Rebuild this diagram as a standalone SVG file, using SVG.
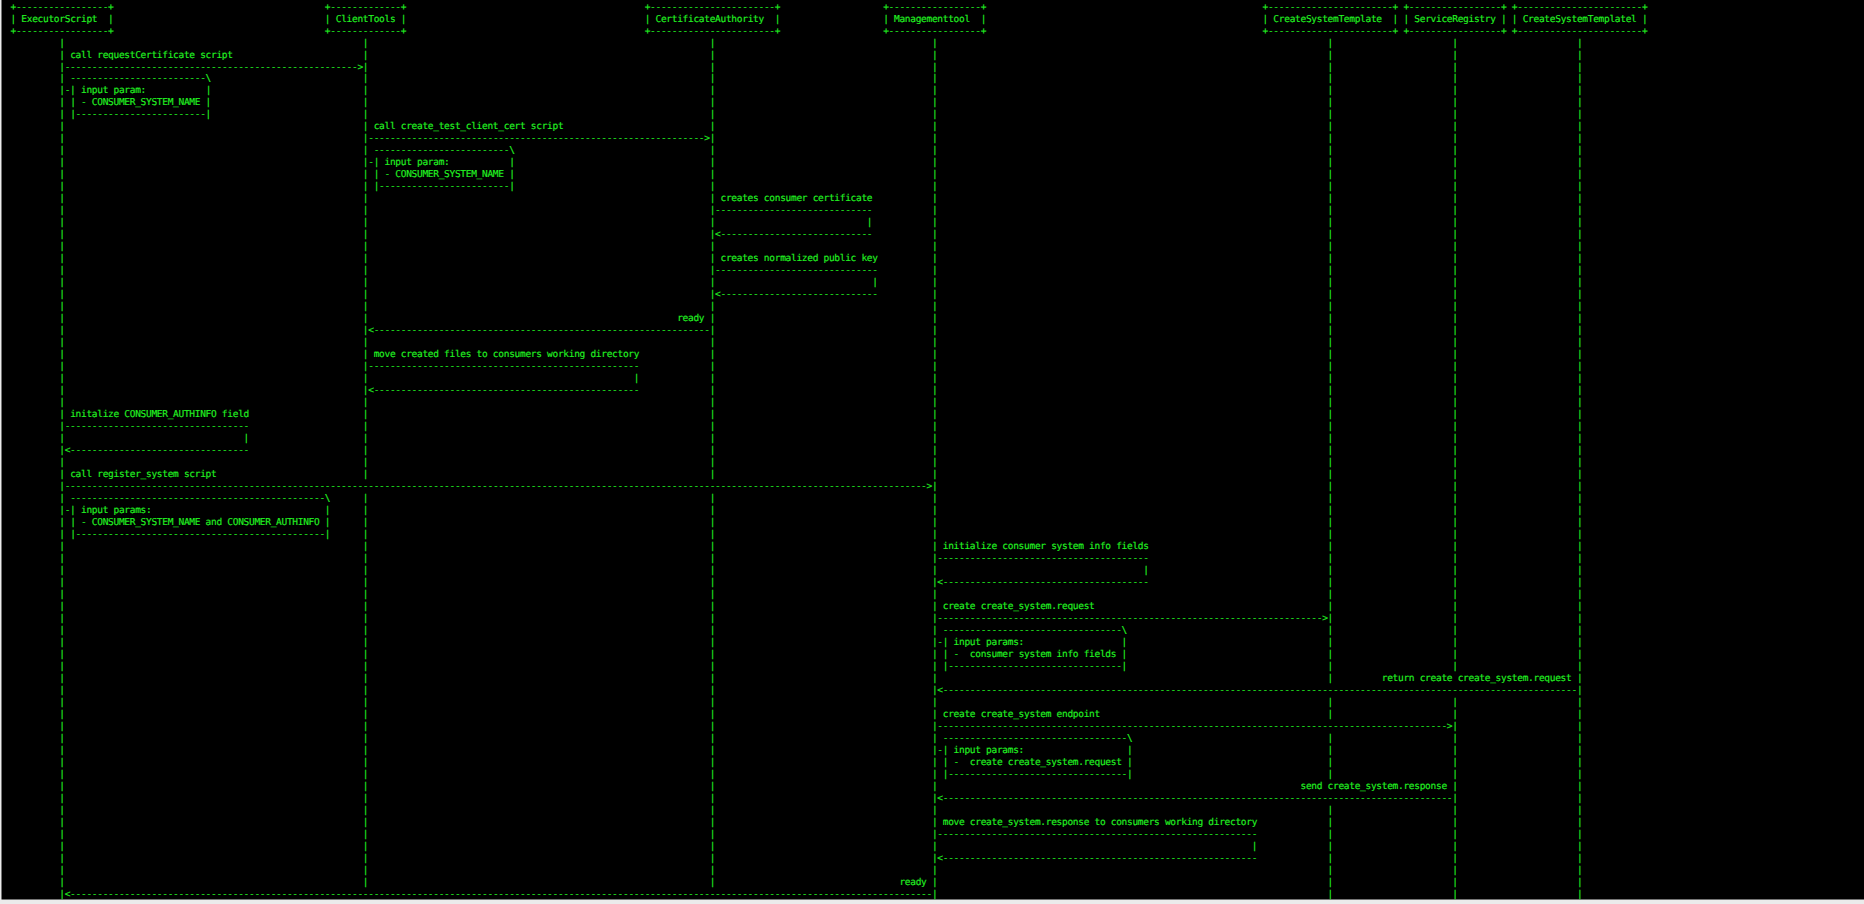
<svg xmlns="http://www.w3.org/2000/svg" width="1864" height="904" viewBox="0 0 1864 904" xml:space="preserve"><style>.t{font-family:"DejaVu Sans Mono","Liberation Mono",monospace;font-size:9.5px;letter-spacing:-0.3px;fill:#22f222;stroke:#22f222;stroke-width:0.15px;white-space:pre;text-rendering:geometricPrecision}</style><rect x="0" y="0" width="1864" height="904" fill="#ebebeb"/><rect x="1.5" y="0" width="1862.5" height="899.5" fill="#000000"/><g id="ExecutorScript"><text class="t" xml:space="preserve" x="10.51" y="9.5" textLength="102.98">+-----------------+</text><text class="t" xml:space="preserve" x="10.51" y="21.5" textLength="102.98">| ExecutorScript  |</text><text class="t" x="10.51" y="33.5" textLength="102.98">+-----------------+</text><text class="t" transform="translate(59.29 0)" x="0 0 0 0 0 0 0 0 0 0 0 0 0 0 0 0 0 0 0 0 0 0 0 0 0 0 0 0 0 0 0 0 0 0 0 0 0 0 0 0 0 0 0 0 0 0 0 0 0 0 0 0 0 0 0 0 0 0 0 0 0 0 0 0 0 0 0 0 0 0 0 0" y="45.5 57.5 69.5 81.4 93.4 105.4 117.4 129.4 141.4 153.4 165.4 177.4 189.4 201.3 213.3 225.3 237.3 249.3 261.3 273.3 285.3 297.3 309.3 321.2 333.2 345.2 357.2 369.2 381.2 393.2 405.2 417.2 429.2 441.1 453.1 465.1 477.1 489.1 501.1 513.1 525.1 537.1 549.1 561 573 585 597 609 621 633 645 657 669 680.9 692.9 704.9 716.9 728.9 740.9 752.9 764.9 776.9 788.9 800.8 812.8 824.8 836.8 848.8 860.8 872.8 884.8 896.8">||||||||||||||||||||||||||||||||||||||||||||||||||||||||||||||||||||||||</text></g><g id="ClientTools"><text class="t" x="324.87" y="9.5" textLength="81.3">+-------------+</text><text class="t" xml:space="preserve" x="324.87" y="21.5" textLength="81.3">| ClientTools |</text><text class="t" x="324.87" y="33.5" textLength="81.3">+-------------+</text><text class="t" transform="translate(362.81 0)" x="0 0 0 0 0 0 0 0 0 0 0 0 0 0 0 0 0 0 0 0 0 0 0 0 0 0 0 0 0 0 0 0 0 0 0 0 0 0 0 0 0 0 0 0 0 0 0 0 0 0 0 0 0 0 0 0 0 0 0 0 0 0 0 0 0 0 0 0 0 0 0 0" y="45.5 57.5 69.5 81.4 93.4 105.4 117.4 129.4 141.4 153.4 165.4 177.4 189.4 201.3 213.3 225.3 237.3 249.3 261.3 273.3 285.3 297.3 309.3 321.2 333.2 345.2 357.2 369.2 381.2 393.2 405.2 417.2 429.2 441.1 453.1 465.1 477.1 501.1 513.1 525.1 537.1 549.1 561 573 585 597 609 621 633 645 657 669 680.9 692.9 704.9 716.9 728.9 740.9 752.9 764.9 776.9 788.9 800.8 812.8 824.8 836.8 848.8 860.8 872.8 884.8">||||||||||||||||||||||||||||||||||||||||||||||||||||||||||||||||||||||</text></g><g id="CertificateAuthority"><text class="t" x="644.65" y="9.5" textLength="135.5">+-----------------------+</text><text class="t" xml:space="preserve" x="644.65" y="21.5" textLength="135.5">| CertificateAuthority  |</text><text class="t" x="644.65" y="33.5" textLength="135.5">+-----------------------+</text><text class="t" transform="translate(709.69 0)" x="0 0 0 0 0 0 0 0 0 0 0 0 0 0 0 0 0 0 0 0 0 0 0 0 0 0 0 0 0 0 0 0 0 0 0 0 0 0 0 0 0 0 0 0 0 0 0 0 0 0 0 0 0 0 0 0 0 0 0 0 0 0 0 0 0 0 0 0 0 0 0 0" y="45.5 57.5 69.5 81.4 93.4 105.4 117.4 129.4 141.4 153.4 165.4 177.4 189.4 201.3 213.3 225.3 237.3 249.3 261.3 273.3 285.3 297.3 309.3 321.2 333.2 345.2 357.2 369.2 381.2 393.2 405.2 417.2 429.2 441.1 453.1 465.1 477.1 501.1 513.1 525.1 537.1 549.1 561 573 585 597 609 621 633 645 657 669 680.9 692.9 704.9 716.9 728.9 740.9 752.9 764.9 776.9 788.9 800.8 812.8 824.8 836.8 848.8 860.8 872.8 884.8">||||||||||||||||||||||||||||||||||||||||||||||||||||||||||||||||||||||</text></g><g id="Managementtool"><text class="t" x="883.13" y="9.5" textLength="102.98">+-----------------+</text><text class="t" xml:space="preserve" x="883.13" y="21.5" textLength="102.98">| Managementtool  |</text><text class="t" x="883.13" y="33.5" textLength="102.98">+-----------------+</text><text class="t" transform="translate(931.91 0)" x="0 0 0 0 0 0 0 0 0 0 0 0 0 0 0 0 0 0 0 0 0 0 0 0 0 0 0 0 0 0 0 0 0 0 0 0 0 0 0 0 0 0 0 0 0 0 0 0 0 0 0 0 0 0 0 0 0 0 0 0 0 0 0 0 0 0 0 0 0 0 0 0" y="45.5 57.5 69.5 81.4 93.4 105.4 117.4 129.4 141.4 153.4 165.4 177.4 189.4 201.3 213.3 225.3 237.3 249.3 261.3 273.3 285.3 297.3 309.3 321.2 333.2 345.2 357.2 369.2 381.2 393.2 405.2 417.2 429.2 441.1 453.1 465.1 477.1 489.1 501.1 513.1 525.1 537.1 549.1 561 573 585 597 609 621 633 645 657 669 680.9 692.9 704.9 716.9 728.9 740.9 752.9 764.9 776.9 788.9 800.8 812.8 824.8 836.8 848.8 860.8 872.8 884.8 896.8">||||||||||||||||||||||||||||||||||||||||||||||||||||||||||||||||||||||||</text></g><g id="CreateSystemTemplate"><text class="t" x="1262.53" y="9.5" textLength="135.5">+-----------------------+</text><text class="t" xml:space="preserve" x="1262.53" y="21.5" textLength="135.5">| CreateSystemTemplate  |</text><text class="t" x="1262.53" y="33.5" textLength="135.5">+-----------------------+</text><text class="t" transform="translate(1327.57 0)" x="0 0 0 0 0 0 0 0 0 0 0 0 0 0 0 0 0 0 0 0 0 0 0 0 0 0 0 0 0 0 0 0 0 0 0 0 0 0 0 0 0 0 0 0 0 0 0 0 0 0 0 0 0 0 0 0 0 0 0 0 0 0 0 0 0 0 0 0 0 0 0 0" y="45.5 57.5 69.5 81.4 93.4 105.4 117.4 129.4 141.4 153.4 165.4 177.4 189.4 201.3 213.3 225.3 237.3 249.3 261.3 273.3 285.3 297.3 309.3 321.2 333.2 345.2 357.2 369.2 381.2 393.2 405.2 417.2 429.2 441.1 453.1 465.1 477.1 489.1 501.1 513.1 525.1 537.1 549.1 561 573 585 597 609 621 633 645 657 669 680.9 704.9 716.9 740.9 752.9 764.9 776.9 812.8 824.8 836.8 848.8 860.8 872.8 884.8 896.8">||||||||||||||||||||||||||||||||||||||||||||||||||||||||||||||||||||</text></g><g id="ServiceRegistry"><text class="t" x="1403.45" y="9.5" textLength="102.98">+-----------------+</text><text class="t" xml:space="preserve" x="1403.45" y="21.5" textLength="102.98">| ServiceRegistry |</text><text class="t" x="1403.45" y="33.5" textLength="102.98">+-----------------+</text><text class="t" transform="translate(1452.23 0)" x="0 0 0 0 0 0 0 0 0 0 0 0 0 0 0 0 0 0 0 0 0 0 0 0 0 0 0 0 0 0 0 0 0 0 0 0 0 0 0 0 0 0 0 0 0 0 0 0 0 0 0 0 0 0 0 0 0 0 0 0 0 0 0 0 0 0 0 0 0 0 0 0" y="45.5 57.5 69.5 81.4 93.4 105.4 117.4 129.4 141.4 153.4 165.4 177.4 189.4 201.3 213.3 225.3 237.3 249.3 261.3 273.3 285.3 297.3 309.3 321.2 333.2 345.2 357.2 369.2 381.2 393.2 405.2 417.2 429.2 441.1 453.1 465.1 477.1 489.1 501.1 513.1 525.1 537.1 549.1 561 573 585 597 609 621 633 645 657 669 704.9 716.9 728.9 740.9 752.9 764.9 776.9 788.9 800.8 812.8 824.8 836.8 848.8 860.8 872.8 884.8 896.8">||||||||||||||||||||||||||||||||||||||||||||||||||||||||||||||||||||||</text></g><g id="CreateSystemTemplatel"><text class="t" x="1511.85" y="9.5" textLength="135.5">+-----------------------+</text><text class="t" xml:space="preserve" x="1511.85" y="21.5" textLength="135.5">| CreateSystemTemplatel |</text><text class="t" x="1511.85" y="33.5" textLength="135.5">+-----------------------+</text><text class="t" transform="translate(1576.89 0)" x="0 0 0 0 0 0 0 0 0 0 0 0 0 0 0 0 0 0 0 0 0 0 0 0 0 0 0 0 0 0 0 0 0 0 0 0 0 0 0 0 0 0 0 0 0 0 0 0 0 0 0 0 0 0 0 0 0 0 0 0 0 0 0 0 0 0 0 0 0 0 0 0" y="45.5 57.5 69.5 81.4 93.4 105.4 117.4 129.4 141.4 153.4 165.4 177.4 189.4 201.3 213.3 225.3 237.3 249.3 261.3 273.3 285.3 297.3 309.3 321.2 333.2 345.2 357.2 369.2 381.2 393.2 405.2 417.2 429.2 441.1 453.1 465.1 477.1 489.1 501.1 513.1 525.1 537.1 549.1 561 573 585 597 609 621 633 645 657 669 680.9 692.9 704.9 716.9 728.9 740.9 752.9 764.9 776.9 788.9 800.8 812.8 824.8 836.8 848.8 860.8 872.8 884.8 896.8">||||||||||||||||||||||||||||||||||||||||||||||||||||||||||||||||||||||||</text></g><g id="connectors"><text class="t" x="70.13" y="57.5">call requestCertificate script</text><text class="t" x="64.71" y="69.5" textLength="298.1" lengthAdjust="spacingAndGlyphs">------------------------------------------------------></text><text class="t" x="70.13" y="81.4" textLength="140.92" lengthAdjust="spacingAndGlyphs">-------------------------\</text><text class="t" x="64.71" y="93.4">-| input param:</text><text class="t" x="205.63" y="93.4">|</text><text class="t" x="70.13" y="105.4">| - CONSUMER_SYSTEM_NAME |</text><text class="t" x="70.13" y="117.4" textLength="140.92" lengthAdjust="spacingAndGlyphs">|------------------------|</text><text class="t" x="373.65" y="129.4">call create_test_client_cert script</text><text class="t" x="368.23" y="141.4" textLength="341.46" lengthAdjust="spacingAndGlyphs">--------------------------------------------------------------></text><text class="t" x="373.65" y="153.4" textLength="140.92" lengthAdjust="spacingAndGlyphs">-------------------------\</text><text class="t" x="368.23" y="165.4">-| input param:</text><text class="t" x="509.15" y="165.4">|</text><text class="t" x="373.65" y="177.4">| - CONSUMER_SYSTEM_NAME |</text><text class="t" x="373.65" y="189.4" textLength="140.92" lengthAdjust="spacingAndGlyphs">|------------------------|</text><text class="t" x="720.53" y="201.3">creates consumer certificate</text><text class="t" x="715.11" y="213.3" textLength="157.18" lengthAdjust="spacingAndGlyphs">-----------------------------</text><text class="t" x="866.87" y="225.3">|</text><text class="t" x="715.11" y="237.3" textLength="157.18" lengthAdjust="spacingAndGlyphs">&lt;----------------------------</text><text class="t" x="720.53" y="261.3">creates normalized public key</text><text class="t" x="715.11" y="273.3" textLength="162.6" lengthAdjust="spacingAndGlyphs">------------------------------</text><text class="t" x="872.29" y="285.3">|</text><text class="t" x="715.11" y="297.3" textLength="162.6" lengthAdjust="spacingAndGlyphs">&lt;-----------------------------</text><text class="t" x="677.17" y="321.2">ready</text><text class="t" x="368.23" y="333.2" textLength="341.46" lengthAdjust="spacingAndGlyphs">&lt;--------------------------------------------------------------</text><text class="t" x="373.65" y="357.2">move created files to consumers working directory</text><text class="t" x="368.23" y="369.2" textLength="271" lengthAdjust="spacingAndGlyphs">--------------------------------------------------</text><text class="t" x="633.81" y="381.2">|</text><text class="t" x="368.23" y="393.2" textLength="271" lengthAdjust="spacingAndGlyphs">&lt;-------------------------------------------------</text><text class="t" x="70.13" y="417.2">initalize CONSUMER_AUTHINFO field</text><text class="t" x="64.71" y="429.2" textLength="184.28" lengthAdjust="spacingAndGlyphs">----------------------------------</text><text class="t" x="243.57" y="441.1">|</text><text class="t" x="64.71" y="453.1" textLength="184.28" lengthAdjust="spacingAndGlyphs">&lt;---------------------------------</text><text class="t" x="70.13" y="477.1">call register_system script</text><text class="t" x="64.71" y="489.1" textLength="867.2" lengthAdjust="spacingAndGlyphs">---------------------------------------------------------------------------------------------------------------------------------------------------------------></text><text class="t" x="70.13" y="501.1" textLength="260.16" lengthAdjust="spacingAndGlyphs">-----------------------------------------------\</text><text class="t" x="64.71" y="513.1">-| input params:</text><text class="t" x="324.87" y="513.1">|</text><text class="t" x="70.13" y="525.1">| - CONSUMER_SYSTEM_NAME and CONSUMER_AUTHINFO |</text><text class="t" x="70.13" y="537.1" textLength="260.16" lengthAdjust="spacingAndGlyphs">|----------------------------------------------|</text><text class="t" x="942.75" y="549.1">initialize consumer system info fields</text><text class="t" x="937.33" y="561" textLength="211.38" lengthAdjust="spacingAndGlyphs">---------------------------------------</text><text class="t" x="1143.29" y="573">|</text><text class="t" x="937.33" y="585" textLength="211.38" lengthAdjust="spacingAndGlyphs">&lt;--------------------------------------</text><text class="t" x="942.75" y="609">create create_system.request</text><text class="t" x="937.33" y="621" textLength="390.24" lengthAdjust="spacingAndGlyphs">-----------------------------------------------------------------------></text><text class="t" x="942.75" y="633" textLength="184.28" lengthAdjust="spacingAndGlyphs">---------------------------------\</text><text class="t" x="937.33" y="645">-| input params:</text><text class="t" x="1121.61" y="645">|</text><text class="t" xml:space="preserve" x="942.75" y="657" textLength="184.28">| -  consumer system info fields |</text><text class="t" x="942.75" y="669" textLength="184.28" lengthAdjust="spacingAndGlyphs">|--------------------------------|</text><text class="t" x="1381.77" y="680.9">return create create_system.request</text><text class="t" x="937.33" y="692.9" textLength="639.56" lengthAdjust="spacingAndGlyphs">&lt;---------------------------------------------------------------------------------------------------------------------</text><text class="t" x="942.75" y="716.9">create create_system endpoint</text><text class="t" x="937.33" y="728.9" textLength="514.9" lengthAdjust="spacingAndGlyphs">----------------------------------------------------------------------------------------------></text><text class="t" x="942.75" y="740.9" textLength="189.7" lengthAdjust="spacingAndGlyphs">----------------------------------\</text><text class="t" x="937.33" y="752.9">-| input params:</text><text class="t" x="1127.03" y="752.9">|</text><text class="t" xml:space="preserve" x="942.75" y="764.9" textLength="189.7">| -  create create_system.request |</text><text class="t" x="942.75" y="776.9" textLength="189.7" lengthAdjust="spacingAndGlyphs">|---------------------------------|</text><text class="t" x="1300.47" y="788.9">send create_system.response</text><text class="t" x="937.33" y="800.8" textLength="514.9" lengthAdjust="spacingAndGlyphs">&lt;----------------------------------------------------------------------------------------------</text><text class="t" x="942.75" y="824.8">move create_system.response to consumers working directory</text><text class="t" x="937.33" y="836.8" textLength="319.78" lengthAdjust="spacingAndGlyphs">-----------------------------------------------------------</text><text class="t" x="1251.69" y="848.8">|</text><text class="t" x="937.33" y="860.8" textLength="319.78" lengthAdjust="spacingAndGlyphs">&lt;----------------------------------------------------------</text><text class="t" x="899.39" y="884.8">ready</text><text class="t" x="64.71" y="896.8" textLength="867.2" lengthAdjust="spacingAndGlyphs">&lt;---------------------------------------------------------------------------------------------------------------------------------------------------------------</text></g></svg>
